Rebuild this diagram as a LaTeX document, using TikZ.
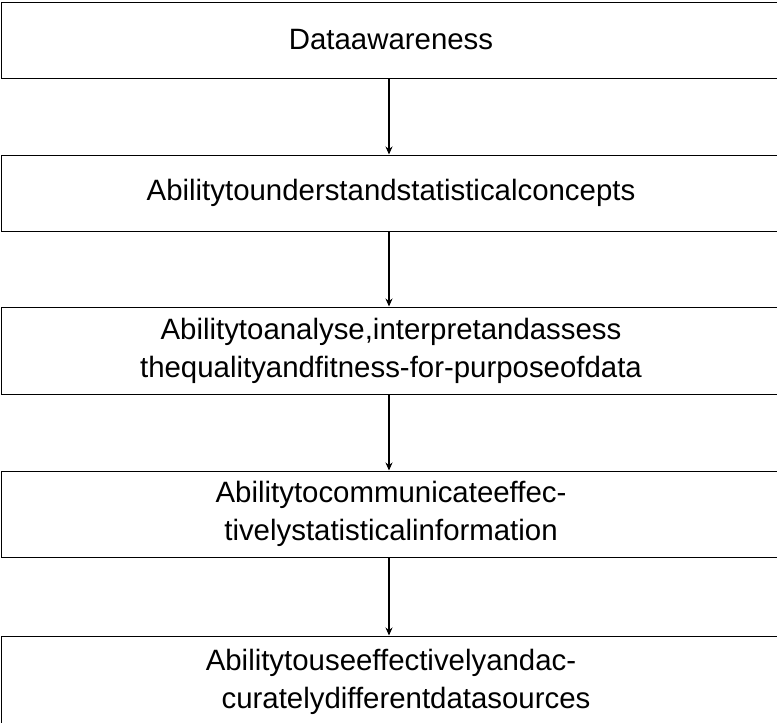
\documentclass[tikz,border=0pt]{standalone}
\usepackage{fontspec}
\setmainfont{Liberation Sans}
\usetikzlibrary{arrows.meta}
\tikzset{
  box/.style={draw=black, line width=1pt, rectangle, minimum width=780pt,
    inner sep=0pt, align=center, font=\fontsize{29.4}{38}\selectfont},
  arr/.style={draw=black, line width=1.3pt, -{Stealth[length=8pt,width=7pt]}}
}
\begin{document}
\begin{tikzpicture}[x=1pt,y=-1pt]
\useasboundingbox (0,0) rectangle (777,723);
\node[box, minimum height=76pt] (b1) at (391,40) {Dataawareness};
\node[box, minimum height=76pt] (b2) at (391,193) {Abilitytounderstandstatisticalconcepts};
\node[box, minimum height=87pt] (b3) at (391,350.5) {Abilitytoanalyse,interpretandassess\\thequalityandfitness-for-purposeofdata};
\node[box, minimum height=86pt] (b4) at (391,514) {Abilitytocommunicateeffec-\\tivelystatisticalinformation};
\node[box, minimum height=92pt] (b5) at (391,682) {Abilitytouseeffectivelyandac-\\\hspace*{30pt}curatelydifferentdatasources};
\draw[arr] ([xshift=-2pt]b1.south) -- ([xshift=-2pt]b2.north);
\draw[arr] ([xshift=-2pt]b2.south) -- ([xshift=-2pt]b3.north);
\draw[arr] ([xshift=-2pt]b3.south) -- ([xshift=-2pt]b4.north);
\draw[arr] ([xshift=-2pt]b4.south) -- ([xshift=-2pt]b5.north);
\end{tikzpicture}
\end{document}
